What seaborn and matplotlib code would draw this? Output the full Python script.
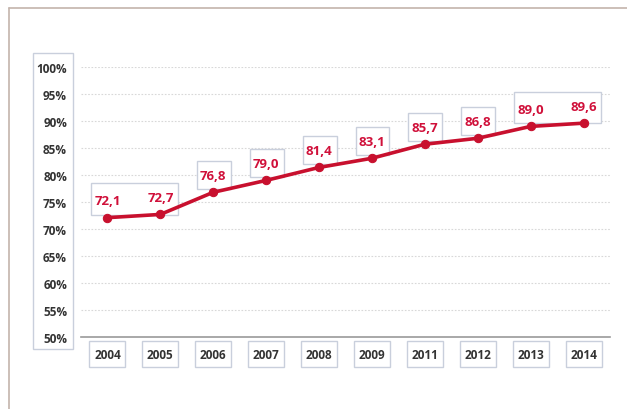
import matplotlib
matplotlib.use("Agg")
import matplotlib.pyplot as plt
import seaborn as sns
import pandas as pd
import numpy as np
from matplotlib.patches import Rectangle
from matplotlib.lines import Line2D

years = ["2004", "2005", "2006", "2007", "2008", "2009", "2011", "2012", "2013", "2014"]
values = [72.1, 72.7, 76.8, 79.0, 81.4, 83.1, 85.7, 86.8, 89.0, 89.6]
value_labels = ["72,1", "72,7", "76,8", "79,0", "81,4", "83,1", "85,7", "86,8", "89,0", "89,6"]
label_groups = [[0, 1], [2], [3], [4], [5], [6], [7], [8, 9]]
y_ticks = [50, 55, 60, 65, 70, 75, 80, 85, 90, 95, 100]
y_ticklabels = [f"{t}%" for t in y_ticks]

sns.set_style("white")
plt.rcParams['font.family'] = ['Open Sans', 'DejaVu Sans']

RED = "#c8102e"
LBL = "#d0103a"
BOX = "#c9cfdc"
TXT = "#333333"

W, H = 627, 410
fig = plt.figure(figsize=(W / 100, H / 100), dpi=100)
ax = fig.add_axes([81 / W, 1 - 338 / H, (610 - 81) / W, (338 - 68) / H])

df = pd.DataFrame({"year": years, "value": values})
df["x"] = np.arange(len(years))
sns.lineplot(data=df, x="x", y="value", ax=ax, color=RED, linewidth=2.6,
             marker="o", markersize=6, markeredgecolor=RED, zorder=5)

ax.set_xlim(-0.5, len(years) - 0.5)
ax.set_ylim(50, 100)
ax.set_xlabel("")
ax.set_ylabel("")

# grid
for t in y_ticks[1:]:
    ax.axhline(t, color="#d8d8d8", lw=0.8, ls=(0, (1.5, 1.5)), zorder=1)

for s in ["top", "right", "left"]:
    ax.spines[s].set_visible(False)
ax.spines["bottom"].set_color("#9a9a9a")
ax.spines["bottom"].set_linewidth(1.2)

ax.set_yticks(y_ticks)
ax.set_yticklabels(y_ticklabels, fontsize=8.5, fontweight="bold", color=TXT)
ax.tick_params(axis="y", length=0, pad=10)

ax.set_xticks(np.arange(len(years)))
ax.set_xticklabels([])
ax.tick_params(axis="x", which="major", length=0)
ax.set_xticks(np.arange(-0.5, len(years), 1), minor=True)
ax.tick_params(axis="x", which="minor", direction="in", length=3.5, width=1.2, color="#9a9a9a")

# x labels in boxes
xt = ax.get_xaxis_transform()
for i, y in enumerate(years):
    ax.add_patch(Rectangle((i - 0.34, -0.111), 0.68, 0.096, transform=xt, fill=True,
                           facecolor="white", edgecolor=BOX, lw=1.0, clip_on=False))
    ax.text(i, -0.063, y, transform=xt, ha="center", va="center", fontsize=8.5,
            fontweight="bold", color=TXT, clip_on=False)

# data labels
off = 17 / 5.4
for g in label_groups:
    ys = [values[i] + off for i in g]
    x0 = g[0] - 0.31
    x1 = g[-1] + 0.33
    y0 = min(ys) - 2.6
    y1 = max(ys) + 2.6
    ax.add_patch(Rectangle((x0, y0), x1 - x0, y1 - y0, facecolor="white",
                           edgecolor=BOX, lw=1.0, zorder=3, clip_on=False))
    for i in g:
        ax.text(i, values[i] + off, value_labels[i], ha="center", va="center",
                fontsize=9.5, fontweight="bold", color=LBL, zorder=4)

# y label box
fig.patches.append(Rectangle((33 / W, 1 - 350 / H), 40 / W, 296 / H, transform=fig.transFigure,
                             fill=False, edgecolor=BOX, lw=1.0))
# outer frame
fig.lines.append(Line2D([9 / W, 1], [1 - 9 / H, 1 - 9 / H], transform=fig.transFigure,
                        color="#c4b4ac", lw=1.2))
fig.lines.append(Line2D([9 / W, 9 / W], [0, 1 - 9 / H], transform=fig.transFigure,
                        color="#c4b4ac", lw=1.2))

fig.savefig("out.png", dpi=100)
